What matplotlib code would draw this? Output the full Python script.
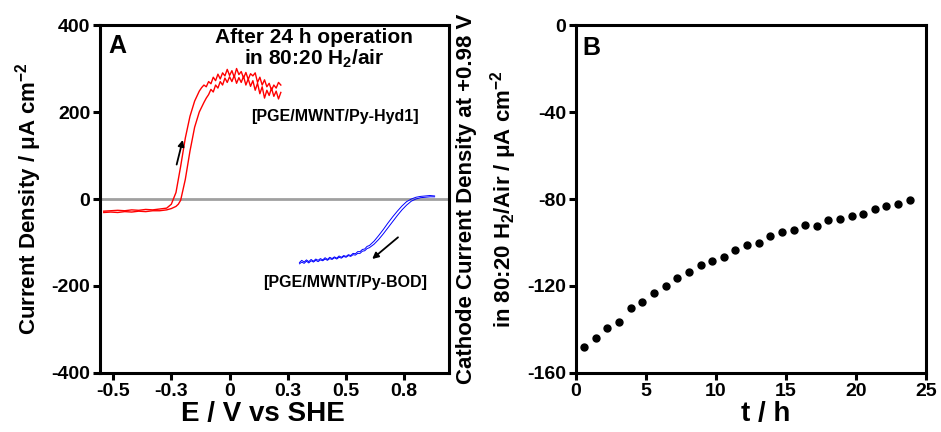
import matplotlib
matplotlib.use("Agg")
import matplotlib.pyplot as plt

plt.rcParams["font.family"] = ["Liberation Sans", "DejaVu Sans"]
plt.rcParams["font.weight"] = "bold"
plt.rcParams["axes.unicode_minus"] = False
plt.rcParams["mathtext.fontset"] = "custom"
plt.rcParams["mathtext.rm"] = "Liberation Sans:bold"
plt.rcParams["mathtext.it"] = "Liberation Sans:bold"
plt.rcParams["mathtext.bf"] = "Liberation Sans:bold"

# ---- panel A: cyclic voltammograms ----
# Hyd1 anode, branch rising at the more negative potential
hyd_a_e = [-0.54, -0.51, -0.48, -0.45, -0.42, -0.39, -0.36, -0.33, -0.30, -0.27,
           -0.25, -0.23, -0.21, -0.19, -0.17, -0.15, -0.13, -0.12,
           -0.11, -0.10, -0.09, -0.08, -0.07, -0.06, -0.05, -0.04, -0.03, -0.02,
           -0.01, 0.00, 0.01, 0.02, 0.03, 0.04, 0.05, 0.06, 0.07, 0.08, 0.09,
           0.10, 0.11, 0.12, 0.13, 0.14, 0.15, 0.16, 0.17, 0.18, 0.19, 0.20,
           0.21, 0.22]
hyd_a_j = [-28, -27, -26, -27, -25, -26, -24, -25, -23, -21,
           -12, 15, 75, 140, 190, 225, 248, 256,
           262, 258, 270, 265, 280, 272, 287, 276, 290, 283,
           298, 284, 295, 280, 300, 286, 293, 278, 291, 275, 288,
           283, 290, 268, 280, 262, 274, 258, 266, 250, 262, 255,
           268, 262]

# Hyd1 anode, branch rising at the more positive potential
hyd_b_e = [-0.54, -0.51, -0.48, -0.45, -0.42, -0.39, -0.36, -0.33, -0.30, -0.27,
           -0.25, -0.23, -0.22, -0.21, -0.19, -0.17, -0.15, -0.13, -0.11, -0.10,
           -0.09, -0.08, -0.07, -0.06, -0.05, -0.04, -0.03, -0.02, -0.01, 0.00,
           0.01, 0.02, 0.03, 0.04, 0.05, 0.06, 0.07, 0.08, 0.09, 0.10, 0.11,
           0.12, 0.13, 0.14, 0.15, 0.16, 0.17, 0.18, 0.19, 0.20, 0.21, 0.22]
hyd_b_j = [-31, -30, -31, -29, -30, -28, -29, -27, -27, -25,
           -22, -17, -12, -3, 45, 110, 165, 200, 222, 232,
           240, 252, 246, 262, 255, 270, 262, 278, 268, 281,
           270, 284, 266, 279, 268, 282, 262, 276, 259, 272, 250,
           266, 242, 258, 232, 250, 238, 255, 236, 248, 230, 245]

# BOD cathode, two branches
bod_e = [0.30, 0.31, 0.32, 0.33, 0.34, 0.35, 0.36, 0.37, 0.38, 0.39, 0.40,
         0.41, 0.42, 0.43, 0.44, 0.45, 0.46, 0.47, 0.48, 0.49, 0.50, 0.51,
         0.52, 0.53, 0.54, 0.55, 0.56, 0.57, 0.58, 0.59, 0.60,
         0.62, 0.64, 0.66, 0.68, 0.70, 0.72, 0.74, 0.76, 0.78, 0.80, 0.82,
         0.84, 0.86, 0.88]
bod_a_j = [-146, -141, -145, -140, -144, -139, -143, -138, -141, -137, -140,
           -135, -139, -134, -137, -133, -136, -131, -134, -130, -132, -128,
           -130, -125, -126, -121, -121, -116, -115, -109, -107,
           -97, -84, -70, -55, -41, -28, -16, -6, 0, 4, 6,
           7, 8, 7]
bod_b_j = [-149, -145, -148, -143, -147, -142, -145, -141, -144, -140, -142,
           -138, -141, -137, -139, -135, -138, -134, -136, -132, -134, -130,
           -132, -128, -129, -125, -125, -120, -119, -114, -112,
           -104, -93, -80, -66, -52, -38, -25, -14, -5, 0, 3,
           4, 5, 5]

a_xticks = [-0.5, -0.25, 0, 0.25, 0.5, 0.75]
a_xticklabels = ["-0.5", "-0.3", "0", "0.3", "0.5", "0.8"]
a_yticks = [-400, -200, 0, 200, 400]

# ---- panel B: cathode current over time ----
t_h = [0.59, 1.42, 2.25, 3.08, 3.91, 4.74, 5.57, 6.40, 7.23, 8.06, 8.90,
       9.73, 10.56, 11.39, 12.22, 13.05, 13.88, 14.71, 15.54, 16.37, 17.20,
       18.03, 18.86, 19.69, 20.52, 21.35, 22.18, 23.01, 23.84]
cathode_j = [-148.2, -144.1, -139.5, -136.6, -130.3, -127.4, -123.4, -120.2,
             -116.3, -113.6, -110.5, -108.5, -106.5, -103.3, -101.3, -100.1,
             -97.0, -95.3, -94.1, -92.0, -92.3, -89.5, -89.4, -88.0, -86.9,
             -84.8, -83.2, -82.3, -80.5]
b_xticks = [0, 5, 10, 15, 20, 25]
b_yticks = [-160, -120, -80, -40, 0]

fig = plt.figure(figsize=(9.41, 4.32), dpi=100)
axA = fig.add_axes([0.1063, 0.1366, 0.3709, 0.8055])
axB = fig.add_axes([0.6121, 0.1366, 0.3719, 0.8055])


def style_axes(ax):
    for s in ax.spines.values():
        s.set_linewidth(2.2)
    ax.tick_params(direction="out", length=5, width=2.2, labelsize=14, pad=2)
    for lab in ax.get_xticklabels() + ax.get_yticklabels():
        lab.set_fontweight("bold")


# panel A
axA.axhline(0, color="#a0a0a0", lw=2, zorder=1)
axA.plot(hyd_a_e, hyd_a_j, color="red", lw=1.0, zorder=2)
axA.plot(hyd_b_e, hyd_b_j, color="red", lw=1.0, zorder=2)
axA.plot(bod_e, bod_a_j, color="blue", lw=0.7, zorder=2)
axA.plot(bod_e, bod_b_j, color="blue", lw=0.7, zorder=2)
axA.set_xlim(-0.556, 0.942)
axA.set_ylim(-400, 400)
axA.set_xticks(a_xticks)
axA.set_xticklabels(a_xticklabels)
axA.set_yticks(a_yticks)
style_axes(axA)
axA.set_xlabel("E / V vs SHE", fontsize=20, fontweight="bold", labelpad=1)
axA.xaxis.label.set_x(0.467)
axA.set_ylabel("Current Density / μA cm$^{-2}$", fontsize=16,
               fontweight="bold", labelpad=5)

axA.annotate("", xy=(-0.198, 142), xytext=(-0.23, 73),
             arrowprops=dict(arrowstyle="-|>", color="black", lw=1.3,
                             mutation_scale=9))
axA.annotate("", xy=(0.603, -142), xytext=(0.732, -84),
             arrowprops=dict(arrowstyle="-|>", color="black", lw=1.3,
                             mutation_scale=9))

axA.text(0.023, 0.94, "A", transform=axA.transAxes, fontsize=18,
         fontweight="bold", va="center", ha="left")
axA.text(0.613, 0.99, "After 24 h operation\nin 80:20 H$_2$/air",
         transform=axA.transAxes, fontsize=15, fontweight="bold",
         ha="center", va="top", linespacing=1.0)
axA.text(0.673, 0.736, "[PGE/MWNT/Py-Hyd1]", transform=axA.transAxes,
         fontsize=11.5, fontweight="bold", ha="center", va="center")
axA.text(0.702, 0.259, "[PGE/MWNT/Py-BOD]", transform=axA.transAxes,
         fontsize=11.5, fontweight="bold", ha="center", va="center")

# panel B
axB.plot(t_h, cathode_j, "o", color="black", ms=5, clip_on=False)
axB.set_xlim(0, 25)
axB.set_ylim(-160, 0)
axB.set_xticks(b_xticks)
axB.set_yticks(b_yticks)
style_axes(axB)
axB.set_xlabel("t / h", fontsize=20, fontweight="bold", labelpad=1)
axB.xaxis.label.set_x(0.543)
axB.set_ylabel("Cathode Current Density at +0.98 V\n"
               "in 80:20 H$_2$/Air / μA cm$^{-2}$", fontsize=16,
               fontweight="bold", labelpad=6, linespacing=1.5)
axB.text(0.017, 0.934, "B", transform=axB.transAxes, fontsize=18,
         fontweight="bold", va="center", ha="left")

fig.savefig("out.png", dpi=100)
